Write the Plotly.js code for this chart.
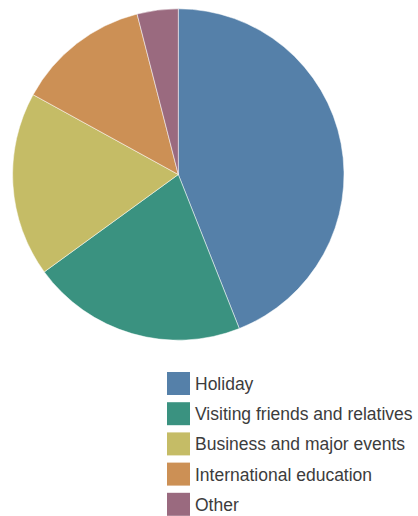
<!DOCTYPE html>
<html>
<head>
<meta charset="utf-8">
<script src="https://cdn.plot.ly/plotly-3.0.1.min.js"></script>
<style>html,body{margin:0;padding:0;background:#fff;}#chart{width:418px;height:516px;}</style>
</head>
<body>
<div id="chart"></div>
<script>
var categories = ["Holiday", "Visiting friends and relatives", "Business and major events", "International education", "Other"];
var shares = [44, 21, 18, 13, 4];
var colors = ["#5580a9", "#3a9280", "#c5bc66", "#cc9055", "#9a6a7f"];

(function () {
  var W = 418, H = 516;
  var trace = {
    type: "pie",
    labels: categories,
    values: shares,
    sort: false,
    direction: "clockwise",
    rotation: 0,
    textinfo: "none",
    hoverinfo: "label+percent",
    marker: {colors: colors, line: {color: "#ffffff", width: 0.5}},
    domain: {x: [12.6 / W, 344 / W], y: [(H - 340.2) / H, (H - 8.8) / H]},
    showlegend: false
  };

  var shapes = [], annotations = [];
  var rowTop = 372, rowStep = 30.2, sw = 23;
  for (var i = 0; i < categories.length; i++) {
    var rt = rowTop + i * rowStep;
    shapes.push({
      type: "rect", xref: "paper", yref: "paper",
      x0: 167 / W, x1: (167 + sw) / W,
      y0: 1 - (rt + sw) / H, y1: 1 - rt / H,
      fillcolor: colors[i], line: {width: 0}
    });
    annotations.push({
      xref: "paper", yref: "paper",
      x: 193 / W, y: 1 - (rt + sw / 2 + 0.5) / H,
      xanchor: "left", yanchor: "middle",
      text: categories[i], showarrow: false,
      font: {family: "Liberation Sans, Arial, sans-serif", size: 17.5, color: "#3c3c3c"}
    });
  }

  var layout = {
    width: W, height: H,
    margin: {l: 0, r: 0, t: 0, b: 0},
    paper_bgcolor: "#ffffff",
    showlegend: false,
    shapes: shapes,
    annotations: annotations
  };
  Plotly.newPlot("chart", [trace], layout, {displayModeBar: false, staticPlot: true});
})();
</script>
</body>
</html>
